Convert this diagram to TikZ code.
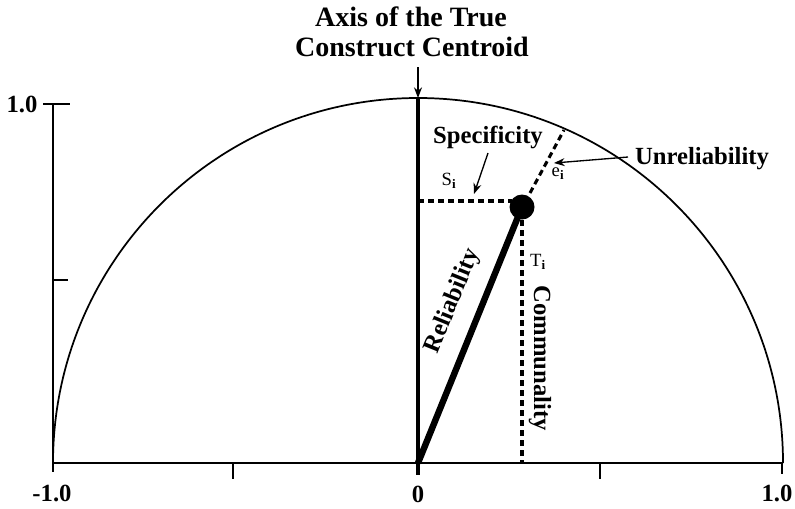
\documentclass[tikz,border=0pt]{standalone}
\usepackage{fontspec}
\setmainfont{Liberation Serif}
\usetikzlibrary{arrows.meta}
\tikzset{
  axisline/.style={line width=2.2pt},
  thickline/.style={line width=3pt},
  relline/.style={line width=4.8pt},
  dashline/.style={line width=2.3pt, dash pattern=on 4.5pt off 3pt},
  pointer/.style={line width=1pt, -{Stealth[length=8pt,width=6pt]}},
  lbl/.style={font=\fontsize{18.5}{20}\selectfont\bfseries, inner sep=0pt},
  ttl/.style={font=\fontsize{21}{23}\selectfont\bfseries, inner sep=0pt},
  sym/.style={font=\fontsize{14}{16}\selectfont, inner sep=0pt},
}
\newcommand{\subi}{\textsubscript{\bfseries i}}
\begin{document}
\begin{tikzpicture}[x=0.75pt,y=-0.75pt]
\useasboundingbox (0,0) rectangle (795,508);
% axes
\coordinate (ytop) at (53,104);
\coordinate (orig) at (53,463);
\coordinate (xend) at (782,463);
\draw[axisline] (ytop) -- (53,472);
\draw[axisline] (orig) -- (xend);
\draw[axisline] (43,104) -- (70,104);
\draw[axisline] (53,280) -- (68,280);
\draw[axisline] (233,463) -- (233,479);
\draw[axisline] (600,463) -- (600,479);
\draw[axisline] (782,463) -- (782,474);
% semicircle
\draw[line width=1.3pt] (53,463) arc[start angle=-180,end angle=0,radius=365];
% labels on axes
\node[lbl] (ly1) at (22,104) {1.0};
\node[lbl] (lxm) at (52,493) {-1.0};
\node[lbl] (lx0) at (418,494) {0};
\node[lbl] (lx1) at (777,493) {1.0};
% centroid axis
\coordinate (ctop) at (418,98);
\coordinate (c0) at (418,463);
\draw[thickline] (ctop) -- (418,475);
% title
\node[ttl] (t1) at (411,17) {Axis of the True};
\node[ttl] (t2) at (412,47) {Construct Centroid};
\coordinate (arrtop) at (418,67);
\draw[pointer] (arrtop) -- (ctop);
% point
\coordinate (P) at (522,207);
\draw[dashline] (418,201) -- (512,201);
\draw[dashline] (522,220) -- (522,463);
\draw[dashline] (530,193) -- (564,130);
\draw[relline] (c0) -- (P);
\fill (P) circle[radius=12.5];
% labels
\node[lbl] (spec) at (488,137) {Specificity};
\draw[pointer] (488,153) -- (474,194);
\node[sym] (si) at (449,181) {S\subi};
\node[lbl] (unrel) at (702,159) {Unreliability};
\draw[pointer] (628,157) -- (554,163);
\node[sym] (ei) at (558,174) {e\subi};
\node[sym] (ti) at (538,262) {T\subi};
\node[lbl, rotate=-90] (comm) at (540,358) {Communality};
\node[lbl, rotate=67.9] (rel) at (453,301) {Reliability};
\end{tikzpicture}
\end{document}
